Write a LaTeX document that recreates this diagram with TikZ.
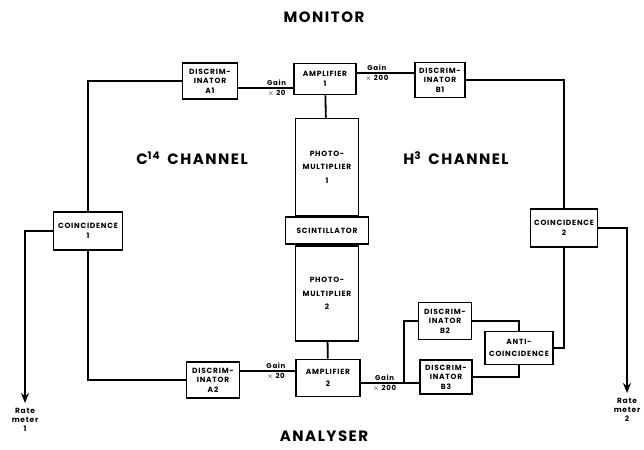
\documentclass[tikz,border=0pt]{standalone}
\usepackage{fontspec}
\setmainfont{Poppins}[LetterSpace=10]
\usetikzlibrary{arrows.meta,positioning}

\begin{document}
\begin{tikzpicture}[x=1pt, y=-1pt, line width=1.8pt,
  blk/.style={draw, align=center, font=\fontsize{7.5}{9.5}\selectfont\bfseries, inner sep=1pt},
  gainlbl/.style={font=\fontsize{7}{10}\selectfont\bfseries, align=center, inner sep=0pt},
  head/.style={font=\fontsize{15}{17}\selectfont\bfseries},
  rate/.style={font=\fontsize{7.5}{9}\selectfont\bfseries, align=center, inner sep=0pt, anchor=north},
  >={Stealth[length=10pt, width=8pt]}]
\useasboundingbox (0,0) rectangle (644,449);

% headings
\node[head] (mon) at (324,17) {MONITOR};
\node[head] (ana) at (324,436) {ANALYSER};
\node[head] (cchan) at (192,158) {C\textsuperscript{14}\, CHANNEL};
\node[head] (hchan) at (456,158) {H\textsuperscript{3}\, CHANNEL};

% counter head
\node[blk, minimum width=62pt, minimum height=31pt] (amp1) at (325,79) {AMPLIFIER\\1};
\node[blk, minimum width=63pt, minimum height=97pt] (pm1) at (327,167) {PHOTO-\\[4pt]MULTIPLIER\\[4pt]1};
\node[blk, minimum width=83pt, minimum height=27pt, below=0pt of pm1] (scint) {SCINTILLATOR};
\node[blk, minimum width=63pt, minimum height=95pt, below=0pt of scint] (pm2) {PHOTO-\\[4pt]MULTIPLIER\\[4pt]2};
\node[blk, minimum width=64pt, minimum height=37pt] (amp2) at (328,378) {AMPLIFIER\\[3pt]2};

% C14 side
\node[blk, minimum width=55pt, minimum height=36pt] (discA1) at (210,81) {DISCRIM-\\INATOR\\A1};
\node[blk, minimum width=53pt, minimum height=36pt] (discA2) at (213,380) {DISCRIM-\\INATOR\\A2};
\node[blk, minimum width=69pt, minimum height=38pt] (coin1) at (88,231) {COINCIDENCE\\1};

% H3 side
\node[blk, minimum width=50pt, minimum height=35pt] (discB1) at (440,80) {DISCRIM-\\INATOR\\B1};
\node[blk, minimum width=53pt, minimum height=37pt] (discB2) at (445,321) {DISCRIM-\\INATOR\\B2};
\node[blk, minimum width=52pt, minimum height=34pt] (discB3) at (446,377) {DISCRIM-\\INATOR\\B3};
\node[blk, minimum width=68pt, minimum height=33pt] (anti) at (519,348) {ANTI-\\[2pt]COINCIDENCE};
\node[blk, minimum width=67pt, minimum height=38pt] (coin2) at (564,228) {COINCIDENCE\\2};

\coordinate (rm1) at (25,403);
\coordinate (rm2) at (627,393);
\coordinate (split) at (404,383);

% connections
\draw (amp1) -- (pm1);
\draw (pm2) -- (amp2);
\draw (discA1.east |- 0,88) -- node[gainlbl, pos=0.7] {Gain\\$\times$ 20} (amp1.west |- 0,88);
\draw (amp1.east |- 0,73) -- node[gainlbl, pos=0.35] {Gain\\$\times$ 200} (discB1.west |- 0,73);
\draw (discA2.east |- 0,371) -- node[gainlbl, pos=0.65] {Gain\\$\times$ 20} (amp2.west |- 0,371);
\draw (amp2.east |- 0,383) -- node[gainlbl, pos=0.55] {Gain\\$\times$ 200} (split) -- (discB3.west |- split);
\draw (split) |- (discB2);
\draw (coin1) |- (discA1);
\draw (coin1) |- (discA2);
\draw (discB1) -| (coin2);
\draw (discB2) -| (anti);
\draw (discB3) -| (anti);
\draw (anti) -| (coin2);
\draw[->] (coin1) -| (rm1);
\draw[->] (coin2) -| (rm2);
\node[rate, below=4pt of rm1] (rate1) {Rate\\meter\\1};
\node[rate, below=4pt of rm2] (rate2) {Rate\\meter\\2};
\end{tikzpicture}
\end{document}
